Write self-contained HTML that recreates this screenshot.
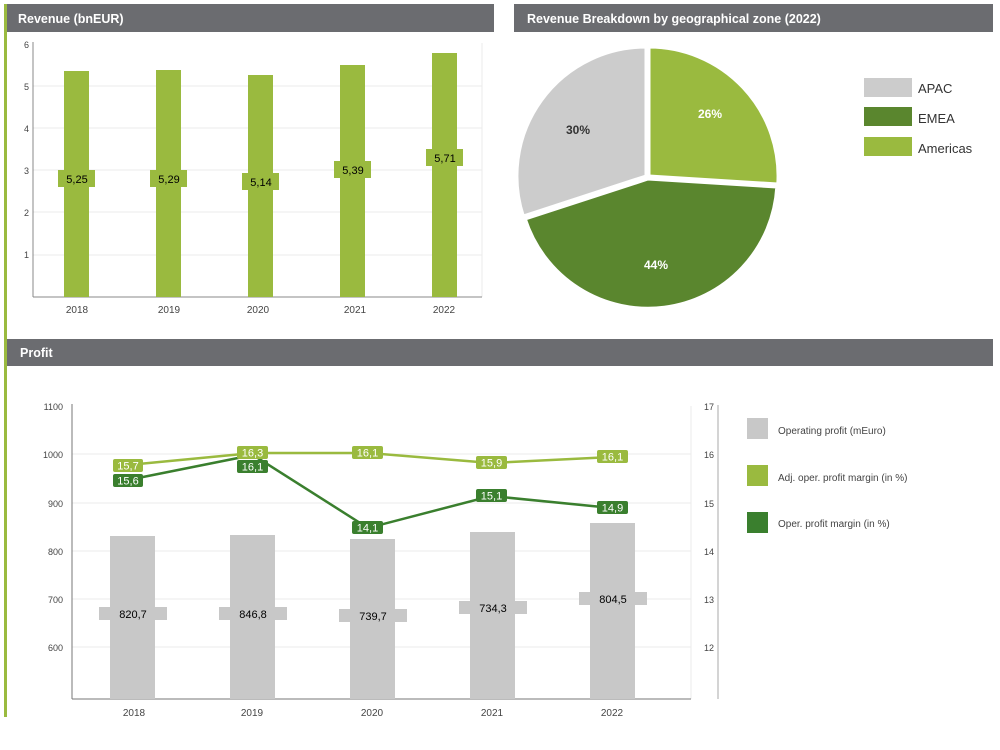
<!DOCTYPE html>
<html><head><meta charset="utf-8"><style>
body{margin:0;background:#fff;}
svg{display:block;font-family:"Liberation Sans",Arial,sans-serif;}
</style></head><body>
<svg width="1000" height="750" viewBox="0 0 1000 750" xmlns="http://www.w3.org/2000/svg">
<rect width="1000" height="750" fill="#fff"/>
<rect x="4" y="4" width="3" height="713" fill="#9aba3f"/>
<!-- headers -->
<rect x="7" y="4" width="487" height="28" fill="#6b6c70"/>
<text x="18" y="23" font-size="12.5" font-weight="bold" fill="#fff">Revenue (bnEUR)</text>
<rect x="514" y="4" width="479" height="28" fill="#6b6c70"/>
<text x="527" y="23" font-size="12.5" font-weight="bold" fill="#fff">Revenue Breakdown by geographical zone (2022)</text>
<rect x="7" y="339" width="986" height="27" fill="#6b6c70"/>
<text x="20" y="357" font-size="12.5" font-weight="bold" fill="#fff">Profit</text>

<!-- revenue chart -->
<g stroke="#ebebeb" stroke-width="1">
<line x1="33" y1="86" x2="482" y2="86"/><line x1="33" y1="128" x2="482" y2="128"/>
<line x1="33" y1="170" x2="482" y2="170"/><line x1="33" y1="212" x2="482" y2="212"/>
<line x1="33" y1="255" x2="482" y2="255"/><line x1="482" y1="43" x2="482" y2="297"/>
</g>
<line x1="33" y1="42" x2="33" y2="297" stroke="#888"/>
<line x1="33" y1="297" x2="482" y2="297" stroke="#888"/>
<g font-size="9" fill="#444" text-anchor="end">
<text x="29" y="48">6</text><text x="29" y="90">5</text><text x="29" y="132">4</text>
<text x="29" y="174">3</text><text x="29" y="216">2</text><text x="29" y="258">1</text>
</g>
<g fill="#9aba3f">
<rect x="64" y="71" width="25" height="226"/><rect x="156" y="70" width="25" height="227"/>
<rect x="248" y="75" width="25" height="222"/><rect x="340" y="65" width="25" height="232"/>
<rect x="432" y="53" width="25" height="244"/>
<rect x="58" y="170" width="37" height="17"/><rect x="150" y="170" width="37" height="17"/>
<rect x="242" y="173" width="37" height="17"/><rect x="334" y="161" width="37" height="17"/>
<rect x="426" y="149" width="37" height="17"/>
</g>
<g font-size="11" fill="#000" text-anchor="middle">
<text x="77" y="183">5,25</text><text x="169" y="183">5,29</text><text x="261" y="186">5,14</text>
<text x="353" y="174">5,39</text><text x="445" y="162">5,71</text>
</g>
<g font-size="10" fill="#444" text-anchor="middle">
<text x="77" y="313">2018</text><text x="169" y="313">2019</text><text x="258" y="313">2020</text>
<text x="355" y="313">2021</text><text x="444" y="313">2022</text>
</g>

<!-- pie -->
<g stroke="#fff" stroke-width="3">
<path d="M648,177 L648,48 A129,129 0 0 1 776.8,185 Z" fill="#9aba3f" transform="translate(1,-1)"/>
<path d="M648,177 L776.8,185 A129,129 0 0 1 525.3,217 Z" fill="#5a862e" transform="translate(0,2)"/>
<path d="M648,177 L525.3,217 A129,129 0 0 1 648,48 Z" fill="#cccccc" transform="translate(-2,-1)"/>
</g>
<text x="578" y="134" font-size="12" font-weight="bold" fill="#333" text-anchor="middle">30%</text>
<text x="710" y="118" font-size="12" font-weight="bold" fill="#fff" text-anchor="middle">26%</text>
<text x="656" y="269" font-size="12" font-weight="bold" fill="#fff" text-anchor="middle">44%</text>
<rect x="864" y="78" width="48" height="19" fill="#cccccc"/>
<rect x="864" y="107" width="48" height="19" fill="#5a862e"/>
<rect x="864" y="137" width="48" height="19" fill="#9aba3f"/>
<g font-size="13" fill="#333">
<text x="918" y="93">APAC</text><text x="918" y="123">EMEA</text><text x="918" y="153">Americas</text>
</g>

<!-- profit chart -->
<g stroke="#ebebeb" stroke-width="1">
<line x1="72" y1="454" x2="691" y2="454"/><line x1="72" y1="503" x2="691" y2="503"/>
<line x1="72" y1="551" x2="691" y2="551"/><line x1="72" y1="599" x2="691" y2="599"/>
<line x1="72" y1="647" x2="691" y2="647"/><line x1="691" y1="406" x2="691" y2="699"/>
</g>
<line x1="72" y1="404" x2="72" y2="699" stroke="#777"/>
<line x1="72" y1="699" x2="691" y2="699" stroke="#777"/>
<line x1="718" y1="405" x2="718" y2="699" stroke="#aaa"/>
<g font-size="9" fill="#444" text-anchor="end">
<text x="63" y="410">1100</text><text x="63" y="458">1000</text><text x="63" y="507">900</text>
<text x="63" y="555">800</text><text x="63" y="603">700</text><text x="63" y="651">600</text>
</g>
<g font-size="9" fill="#444">
<text x="704" y="410">17</text><text x="704" y="458">16</text><text x="704" y="507">15</text>
<text x="704" y="555">14</text><text x="704" y="603">13</text><text x="704" y="651">12</text>
</g>
<g fill="#c8c8c8">
<rect x="110" y="536" width="45" height="163"/><rect x="230" y="535" width="45" height="164"/>
<rect x="350" y="539" width="45" height="160"/><rect x="470" y="532" width="45" height="167"/>
<rect x="590" y="523" width="45" height="176"/>
<rect x="99" y="607" width="68" height="13"/><rect x="219" y="607" width="68" height="13"/>
<rect x="339" y="609" width="68" height="13"/><rect x="459" y="601" width="68" height="13"/>
<rect x="579" y="592" width="68" height="13"/>
</g>
<g font-size="11" fill="#000" text-anchor="middle">
<text x="133" y="618">820,7</text><text x="253" y="618">846,8</text><text x="373" y="620">739,7</text>
<text x="493" y="612">734,3</text><text x="613" y="603">804,5</text>
</g>
<polyline points="128,480 253,455 368,528 491,496 612,508" fill="none" stroke="#3a7f2e" stroke-width="2.5"/>
<polyline points="128,465 253,453 368,453 491,463 612,457" fill="none" stroke="#9aba3f" stroke-width="2.5"/>
<g fill="#9aba3f">
<rect x="113" y="459" width="30" height="13" rx="2"/><rect x="237" y="446" width="31" height="13" rx="2"/>
<rect x="352" y="446" width="31" height="13" rx="2"/><rect x="476" y="456" width="31" height="13" rx="2"/>
<rect x="597" y="450" width="31" height="13" rx="2"/>
</g>
<g fill="#3a7f2e">
<rect x="113" y="474" width="30" height="13" rx="2"/><rect x="237" y="460" width="31" height="13" rx="2"/>
<rect x="352" y="521" width="31" height="13" rx="2"/><rect x="476" y="489" width="31" height="13" rx="2"/>
<rect x="597" y="501" width="31" height="13" rx="2"/>
</g>
<g font-size="11" fill="#fff" text-anchor="middle">
<text x="128" y="469.5">15,7</text><text x="252.5" y="456.5">16,3</text><text x="367.5" y="456.5">16,1</text>
<text x="491.5" y="466.5">15,9</text><text x="612.5" y="460.5">16,1</text>
<text x="128" y="484.5">15,6</text><text x="252.5" y="470.5">16,1</text><text x="367.5" y="531.5">14,1</text>
<text x="491.5" y="499.5">15,1</text><text x="612.5" y="511.5">14,9</text>
</g>
<g font-size="10" fill="#444" text-anchor="middle">
<text x="134" y="716">2018</text><text x="252" y="716">2019</text><text x="372" y="716">2020</text>
<text x="492" y="716">2021</text><text x="612" y="716">2022</text>
</g>
<rect x="747" y="418" width="21" height="21" fill="#c8c8c8"/>
<rect x="747" y="465" width="21" height="21" fill="#9aba3f"/>
<rect x="747" y="512" width="21" height="21" fill="#3a7f2e"/>
<g font-size="10" fill="#444">
<text x="778" y="434">Operating profit (mEuro)</text>
<text x="778" y="481">Adj. oper. profit margin (in %)</text>
<text x="778" y="527">Oper. profit margin (in %)</text>
</g>
</svg>
</body></html>
